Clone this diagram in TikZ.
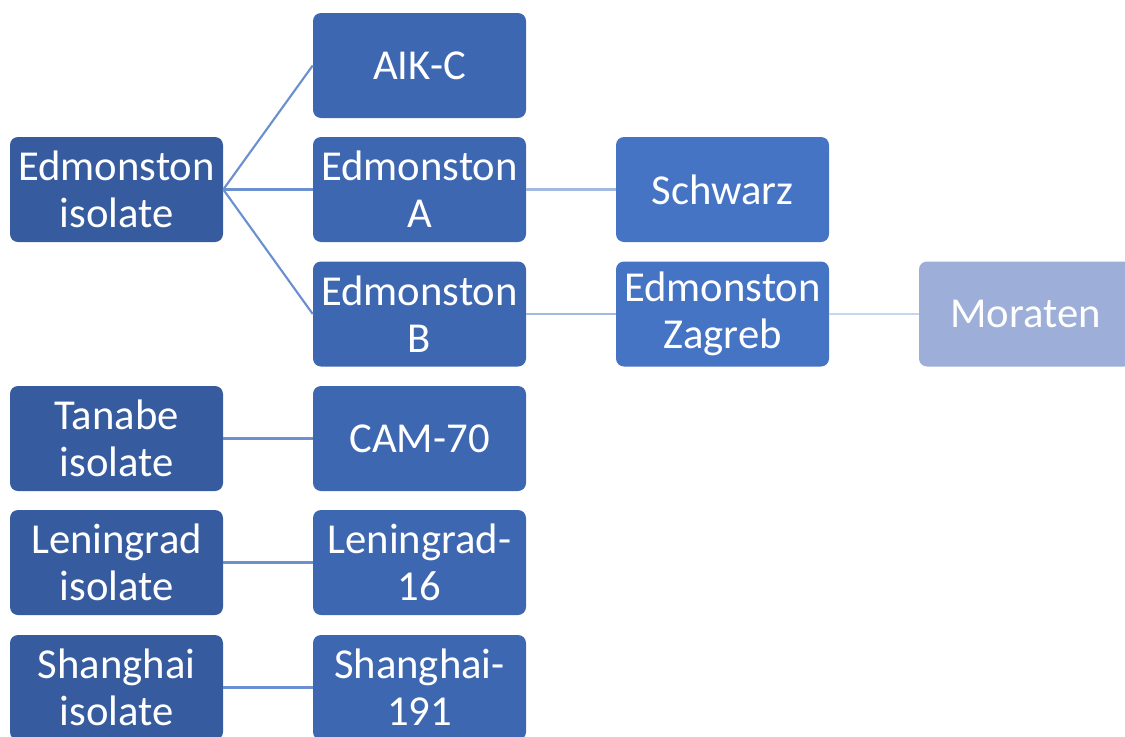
\documentclass[tikz,border=0pt]{standalone}
\usepackage{fontspec}
\setmainfont{Carlito}
\usetikzlibrary{positioning}
\definecolor{lvla}{HTML}{365C9F}
\definecolor{lvlb}{HTML}{3E67B1}
\definecolor{lvlc}{HTML}{4674C4}
\definecolor{lvld}{HTML}{9DAED8}
\tikzset{block/.style={fill=lvlb,rounded corners=6pt,align=center,text=white,minimum width=159.75pt,minimum height=78.75pt,inner sep=1pt,font=\fontsize{32}{35}\selectfont},edge/.style={line width=1.6pt,draw=#1}}

\begin{document}
\begin{tikzpicture}[x=0.75pt,y=-0.75pt]
\clip (0,0) rectangle (1125,736);
\node[block,fill=lvla] (edm) at (116.5,189.5) {Edmonston\\isolate};
\node[block,fill=lvla] (tan) at (116.5,438.5) {Tanabe\\isolate};
\node[block,fill=lvla] (len) at (116.5,562.5) {Leningrad\\isolate};
\node[block,fill=lvla] (sha) at (116.5,687.5) {Shanghai\\isolate};
\node[block] (aik) at (419.5,65.5) {AIK-C};
\node[block] (edma) at (419.5,189.5) {Edmonston\\A};
\node[block] (edmb) at (419.5,314) {Edmonston\\B};
\node[block] (cam) at (419.5,438.5) {CAM-70};
\node[block] (len16) at (419.5,562.5) {Leningrad-\\16};
\node[block] (sha191) at (419.5,687.5) {Shanghai-\\191};
\node[block,fill=lvlc] (sch) at (722.5,189.5) {Schwarz};
\node[block,fill=lvlc] (zag) at (722.5,314) {Edmonston\\Zagreb};
\node[block,fill=lvld] (mor) at (1025.5,314) {Moraten};
\draw[edge=lvlc!80] (edm.east)--(aik.west);
\draw[edge=lvlc!80] (edm.east)--(edma.west);
\draw[edge=lvlc!80] (edm.east)--(edmb.west);
\draw[edge=lvlc!80] (tan)--(cam);
\draw[edge=lvlc!80] (len)--(len16);
\draw[edge=lvlc!80] (sha)--(sha191);
\draw[edge=lvlc!50] (edma)--(sch);
\draw[edge=lvlc!50] (edmb)--(zag);
\draw[edge=lvlc!30] (zag)--(mor);
\end{tikzpicture}
\end{document}
